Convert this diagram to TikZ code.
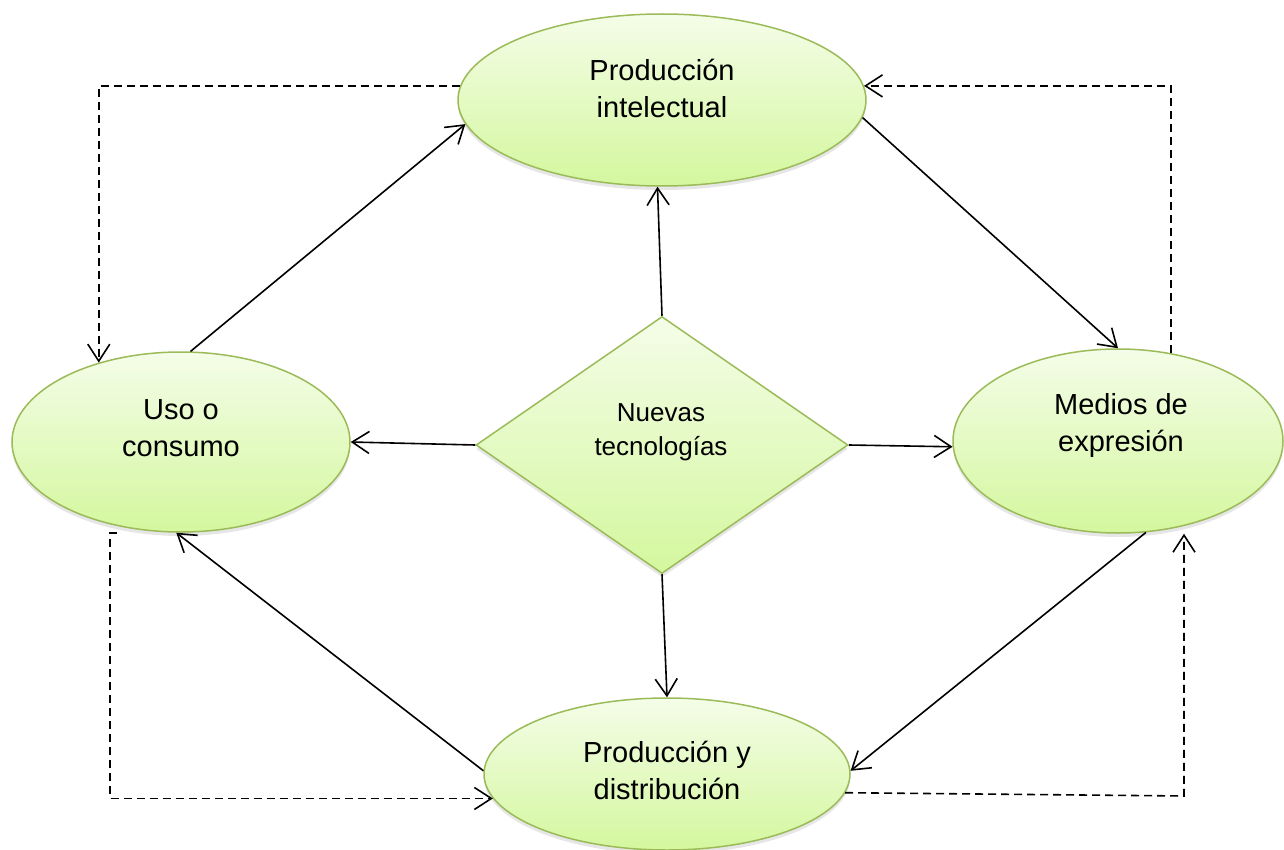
\documentclass[tikz,border=0pt]{standalone}
\usepackage{fontspec}
\setmainfont{Liberation Sans}
\usetikzlibrary{shapes.geometric,arrows.meta,shadows,calc}
\definecolor{bordergreen}{RGB}{155,187,89}
\definecolor{filltop}{RGB}{244,253,232}
\definecolor{fillbot}{RGB}{212,247,158}
\tikzset{
  shapefill/.style={draw=bordergreen, line width=1.5pt, top color=filltop, bottom color=fillbot,
    inner sep=0pt, drop shadow={opacity=0.2, shadow xshift=0pt, shadow yshift=-4pt}},
  bubble/.style={ellipse, shapefill},
  rhomb/.style={diamond, shapefill},
  lbl/.style={align=center, inner sep=0pt, font=\fontsize{29}{37}\selectfont},
  lblsmall/.style={align=center, inner sep=0pt, font=\fontsize{26}{34}\selectfont},
  conn/.style={line width=1.6pt, -{Straight Barb[length=17pt,width=22pt,line width=1.6pt]}},
  dconn/.style={conn, dash pattern=on 8pt off 5pt},
}
\begin{document}
\begin{tikzpicture}[x=1pt,y=-1pt]
\useasboundingbox (0,0) rectangle (1284,850);
% nodes
\node[bubble, minimum width=408pt, minimum height=172pt] (T) at (662,100) {};
\node[bubble, minimum width=338pt, minimum height=180pt] (L) at (181,442) {};
\node[bubble, minimum width=330pt, minimum height=184pt] (R) at (1118,441) {};
\node[bubble, minimum width=366pt, minimum height=152pt] (B) at (667,774) {};
\node[rhomb, minimum width=372pt, minimum height=257pt] (D) at (662,445) {};
\node[lbl] (tT) at (662,88) {Producción\\intelectual};
\node[lbl] (tL) at (181,428) {Uso o\\consumo};
\node[lbl] (tR) at (1121,425) {Medios de\\expresión};
\node[lbl] (tB) at (667,770) {Producción y\\distribución};
\node[lblsmall] (tD) at (661,432) {Nuevas\\tecnologías};
% solid connectors
\draw[conn] (L.84.5) -- (T.187.5);
\draw[conn] (T.355.8) -- (R.90.6);
\draw[conn] (R.287) -- (B.1.9);
\draw[conn] (B.179) -- (L.267.5);
\draw[conn] (D.north) -- (T.267.4);
\draw[conn] (D.west) -- (L.0);
\draw[conn] (D.east) -- (R.182.8);
\draw[conn] (D.south) -- (B.90);
% dashed connectors
\coordinate (c1) at (117,533);
\coordinate (c2) at (1184,796);
\draw[dconn] (T.176.3) -| (L.136);
\draw[dconn] (R.59.3) |- (T.4.1);
\draw[dconn] (c1) -- ++(-7,0) |- (B.188.8);
\draw[dconn] (B.354) -- (c2) -- (c2 |- R.south);
\end{tikzpicture}
\end{document}
